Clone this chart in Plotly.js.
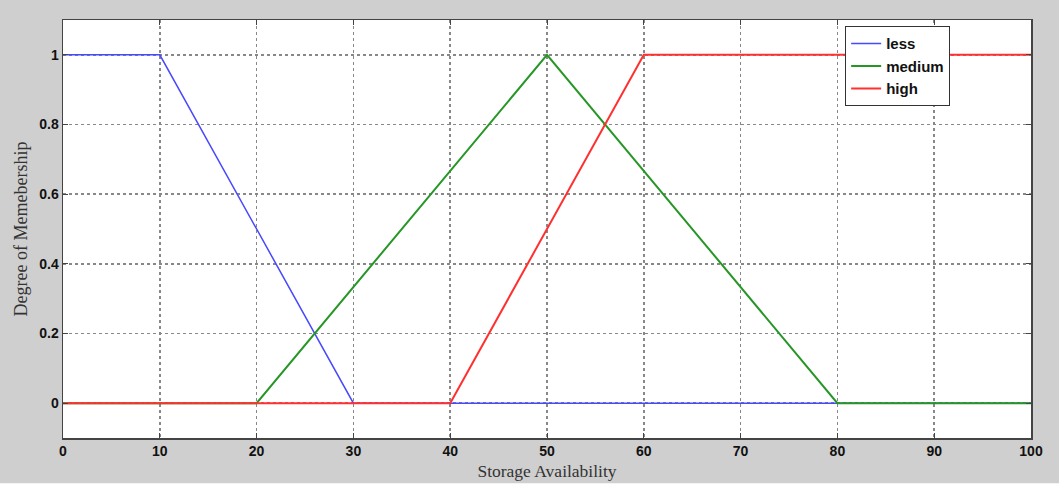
<!DOCTYPE html>
<html>
<head>
<meta charset="utf-8">
<script src="https://cdn.plot.ly/plotly-3.0.1.min.js"></script>
<style>html,body{margin:0;padding:0;background:#fff;}#chart{width:1059px;height:487px;}</style>
</head>
<body>
<div id="chart"></div>
<script>
// Membership function breakpoints
const lessX = [0, 10, 30, 100];
const lessY = [1, 1, 0, 0];
const mediumX = [0, 20, 50, 80, 100];
const mediumY = [0, 0, 1, 0, 0];
const highX = [0, 40, 60, 100];
const highY = [0, 0, 1, 1];
const seriesNames = ["less", "medium", "high"];
const xTicks = [0, 10, 20, 30, 40, 50, 60, 70, 80, 90, 100];
const yTicks = [0, 0.2, 0.4, 0.6, 0.8, 1];

const traces = [
  {x: lessX, y: lessY, name: seriesNames[0], mode: "lines", line: {color: "#4848ff", width: 1.5}},
  {x: mediumX, y: mediumY, name: seriesNames[1], mode: "lines", line: {color: "#269626", width: 2}},
  {x: highX, y: highY, name: seriesNames[2], mode: "lines", line: {color: "#ff3030", width: 2}}
];

const axisCommon = {
  showline: true, linecolor: "#444", linewidth: 1.5, mirror: "ticks",
  ticks: "inside", ticklen: 5, tickcolor: "#444",
  showgrid: true, gridcolor: "#888", griddash: "dot", gridwidth: 1.5,
  zeroline: false,
  tickfont: {family: "Arial, Liberation Sans, sans-serif", size: 14, color: "#111", weight: "bold"}
};

const layout = {
  width: 1059, height: 487,
  margin: {l: 63, r: 28, t: 20, b: 49},
  paper_bgcolor: "#cfcfcf",
  plot_bgcolor: "#ffffff",
  showlegend: true,
  legend: {
    x: 0.808, y: 0.985, xanchor: "left", yanchor: "top",
    bgcolor: "#ffffff", bordercolor: "#333", borderwidth: 1,
    font: {family: "Arial, Liberation Sans, sans-serif", size: 15, color: "#111", weight: "bold"},
    tracegroupgap: 0
  },
  xaxis: Object.assign({}, axisCommon, {
    range: [0, 100], tickvals: xTicks, ticktext: xTicks.map(String),
    title: {text: "Storage Availability", standoff: 6,
      font: {family: "Liberation Serif, Times New Roman, serif", size: 17.5, color: "#333"}}
  }),
  yaxis: Object.assign({}, axisCommon, {
    range: [-0.1, 1.1], tickvals: yTicks, ticktext: yTicks.map(String),
    title: {text: "Degree of Memebership", standoff: 7,
      font: {family: "Liberation Serif, Times New Roman, serif", size: 18, color: "#333"}}
  }),
  shapes: [
    {type: "rect", xref: "paper", yref: "paper", x0: -0.1, x1: 1.1, y0: -0.108, y1: -0.2,
     fillcolor: "#ffffff", line: {width: 0}, layer: "below"}
  ]
};

Plotly.newPlot("chart", traces, layout, {displayModeBar: false, staticPlot: true});
</script>
</body>
</html>
